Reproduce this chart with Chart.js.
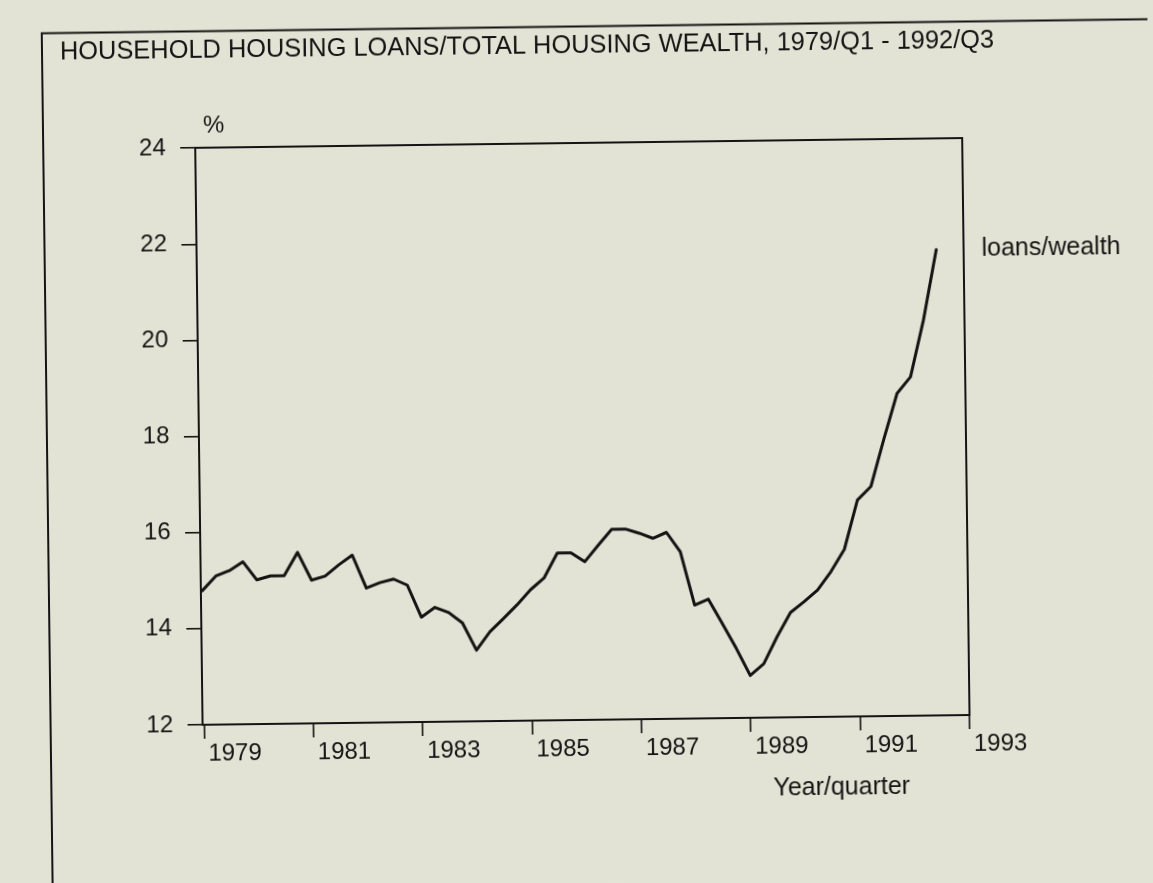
<!DOCTYPE html>
<html>
<head>
<meta charset="utf-8">
<script src="https://cdn.jsdelivr.net/npm/chart.js@4/dist/chart.umd.min.js"></script>
<style>
  html, body { margin: 0; padding: 0; background: #e3e3d5; overflow: hidden; width: 1153px; height: 883px; }
  #wrap { position: absolute; left: 0; top: 0; width: 1153px; height: 883px;
          transform: rotate(-0.73deg); transform-origin: 576.5px 441.5px; }
  canvas { display: block; }
</style>
</head>
<body>
<div id="wrap"><canvas id="chart" width="1153" height="883"></canvas></div>
<script>
// ---- data ----
const periods = [
  '1979Q1','1979Q2','1979Q3','1979Q4',
  '1980Q1','1980Q2','1980Q3','1980Q4',
  '1981Q1','1981Q2','1981Q3','1981Q4',
  '1982Q1','1982Q2','1982Q3','1982Q4',
  '1983Q1','1983Q2','1983Q3','1983Q4',
  '1984Q1','1984Q2','1984Q3','1984Q4',
  '1985Q1','1985Q2','1985Q3','1985Q4',
  '1986Q1','1986Q2','1986Q3','1986Q4',
  '1987Q1','1987Q2','1987Q3','1987Q4',
  '1988Q1','1988Q2','1988Q3','1988Q4',
  '1989Q1','1989Q2','1989Q3','1989Q4',
  '1990Q1','1990Q2','1990Q3','1990Q4',
  '1991Q1','1991Q2','1991Q3','1991Q4',
  '1992Q1','1992Q2','1992Q3'
];
const loansWealth = [
  14.79, 15.09, 15.20, 15.38,
  15.00, 15.08, 15.08, 15.56,
  14.98, 15.06, 15.29, 15.49,
  14.80, 14.91, 14.98, 14.85,
  14.18, 14.38, 14.27, 14.05,
  13.48, 13.86, 14.13, 14.41,
  14.72, 14.96, 15.48, 15.48,
  15.29, 15.63, 15.96, 15.96,
  15.87, 15.76, 15.88, 15.47,
  14.36, 14.48, 13.97, 13.45,
  12.88, 13.12, 13.68, 14.18,
  14.40, 14.64, 15.02, 15.48,
  16.50, 16.78, 17.77, 18.71,
  19.05, 20.23, 21.69
];
const xTickYears = [1979, 1981, 1983, 1985, 1987, 1989, 1991, 1993];
const yTickValues = [12, 14, 16, 18, 20, 22, 24];
const titleText = 'HOUSEHOLD HOUSING LOANS/TOTAL HOUSING WEALTH, 1979/Q1 - 1992/Q3';
const seriesLabel = 'loans/wealth';
const yUnitLabel = '%';
const xAxisLabel = 'Year/quarter';

// ---- style ----
const INK = '#141414';
const BG = '#e3e3d5';
const FONT = "'Liberation Sans', Arial, Helvetica, sans-serif";

// convert '1979Q1' -> 1979.00, '1979Q2' -> 1979.25 ...
function periodToYear(p) {
  const y = parseInt(p.slice(0, 4), 10);
  const q = parseInt(p.slice(5), 10);
  return y + (q - 1) / 4;
}
const points = periods.map((p, i) => ({ x: periodToYear(p), y: loansWealth[i] }));

const decorations = {
  id: 'decorations',
  beforeDraw(chart) {
    const ctx = chart.ctx;
    ctx.save();
    ctx.fillStyle = BG;
    ctx.fillRect(-50, -50, chart.width + 100, chart.height + 100);
    // outer page frame (left and top rules)
    ctx.strokeStyle = INK;
    ctx.lineWidth = 2;
    ctx.beginPath();
    ctx.moveTo(47, chart.height + 20);
    ctx.lineTo(47, 26.5);
    ctx.lineTo(chart.width + 20, 26.5);
    ctx.stroke();
    ctx.restore();
  },
  afterDraw(chart) {
    const ctx = chart.ctx;
    const ca = chart.chartArea;
    const meta = chart.getDatasetMeta(0);
    const last = meta.data[meta.data.length - 1];
    ctx.save();
    ctx.fillStyle = INK;
    ctx.textBaseline = 'middle';
    ctx.textAlign = 'left';
    ctx.font = `24px ${FONT}`;
    ctx.fillText(yUnitLabel, ca.left + 8, ca.top - 22);
    ctx.font = `25px ${FONT}`;
    ctx.fillText(seriesLabel, ca.right + 18, last.y);
    ctx.fillText(xAxisLabel, ca.right - 197, ca.bottom + 71);
    ctx.restore();
  }
};

Chart.defaults.font.family = FONT;
Chart.defaults.color = INK;

new Chart(document.getElementById('chart'), {
  type: 'line',
  data: {
    datasets: [{
      label: seriesLabel,
      data: points,
      borderColor: INK,
      borderWidth: 3,
      borderJoinStyle: 'round',
      borderCapStyle: 'round',
      pointRadius: 0,
      tension: 0,
      fill: false
    }]
  },
  options: {
    responsive: false,
    animation: false,
    devicePixelRatio: 1,
    layout: { padding: { left: 65, top: 20, right: 0, bottom: 0 } },
    plugins: {
      legend: { display: false },
      tooltip: { enabled: false },
      title: {
        display: true,
        text: titleText,
        align: 'start',
        color: INK,
        font: { size: 25.4, weight: 'normal', family: FONT, lineHeight: 1.2 },
        padding: { top: 10.5, bottom: 82.2 }
      }
    },
    scales: {
      x: {
        type: 'linear',
        position: 'bottom',
        min: 1978.974,
        max: 1993,
        afterBuildTicks: (scale) => { scale.ticks = xTickYears.map(v => ({ value: v })); },
        afterFit: (scale) => { scale.height = 163; },
        grid: { drawOnChartArea: false, drawTicks: true, tickLength: 14, color: INK, lineWidth: 1.6 },
        border: { display: true, color: INK, width: 2 },
        ticks: {
          autoSkip: false, maxRotation: 0, minRotation: 0,
          align: 'start', labelOffset: 4, padding: 1,
          color: INK, font: { size: 24, family: FONT },
          callback: (v) => String(v)
        }
      },
      xTop: {
        type: 'linear',
        position: 'top',
        display: true,
        min: 1978.974,
        max: 1993,
        afterFit: (scale) => { scale.height = 0; },
        grid: { drawOnChartArea: false, drawTicks: false },
        border: { display: true, color: INK, width: 2 },
        ticks: { display: false }
      },
      y: {
        type: 'linear',
        position: 'left',
        min: 12,
        max: 24,
        afterBuildTicks: (scale) => { scale.ticks = yTickValues.map(v => ({ value: v })); },
        afterFit: (scale) => { scale.width = 134; },
        grid: { drawOnChartArea: false, drawTicks: true, tickLength: 15, color: INK, lineWidth: 1.6 },
        border: { display: true, color: INK, width: 2 },
        ticks: { padding: 14.5, color: INK, font: { size: 24, family: FONT }, callback: (v) => String(v) }
      },
      yRight: {
        type: 'linear',
        position: 'right',
        display: true,
        min: 12,
        max: 24,
        afterFit: (scale) => { scale.width = 187; },
        grid: { drawOnChartArea: false, drawTicks: false },
        border: { display: true, color: INK, width: 2 },
        ticks: { display: false }
      }
    }
  },
  plugins: [decorations]
});
</script>
</body>
</html>
